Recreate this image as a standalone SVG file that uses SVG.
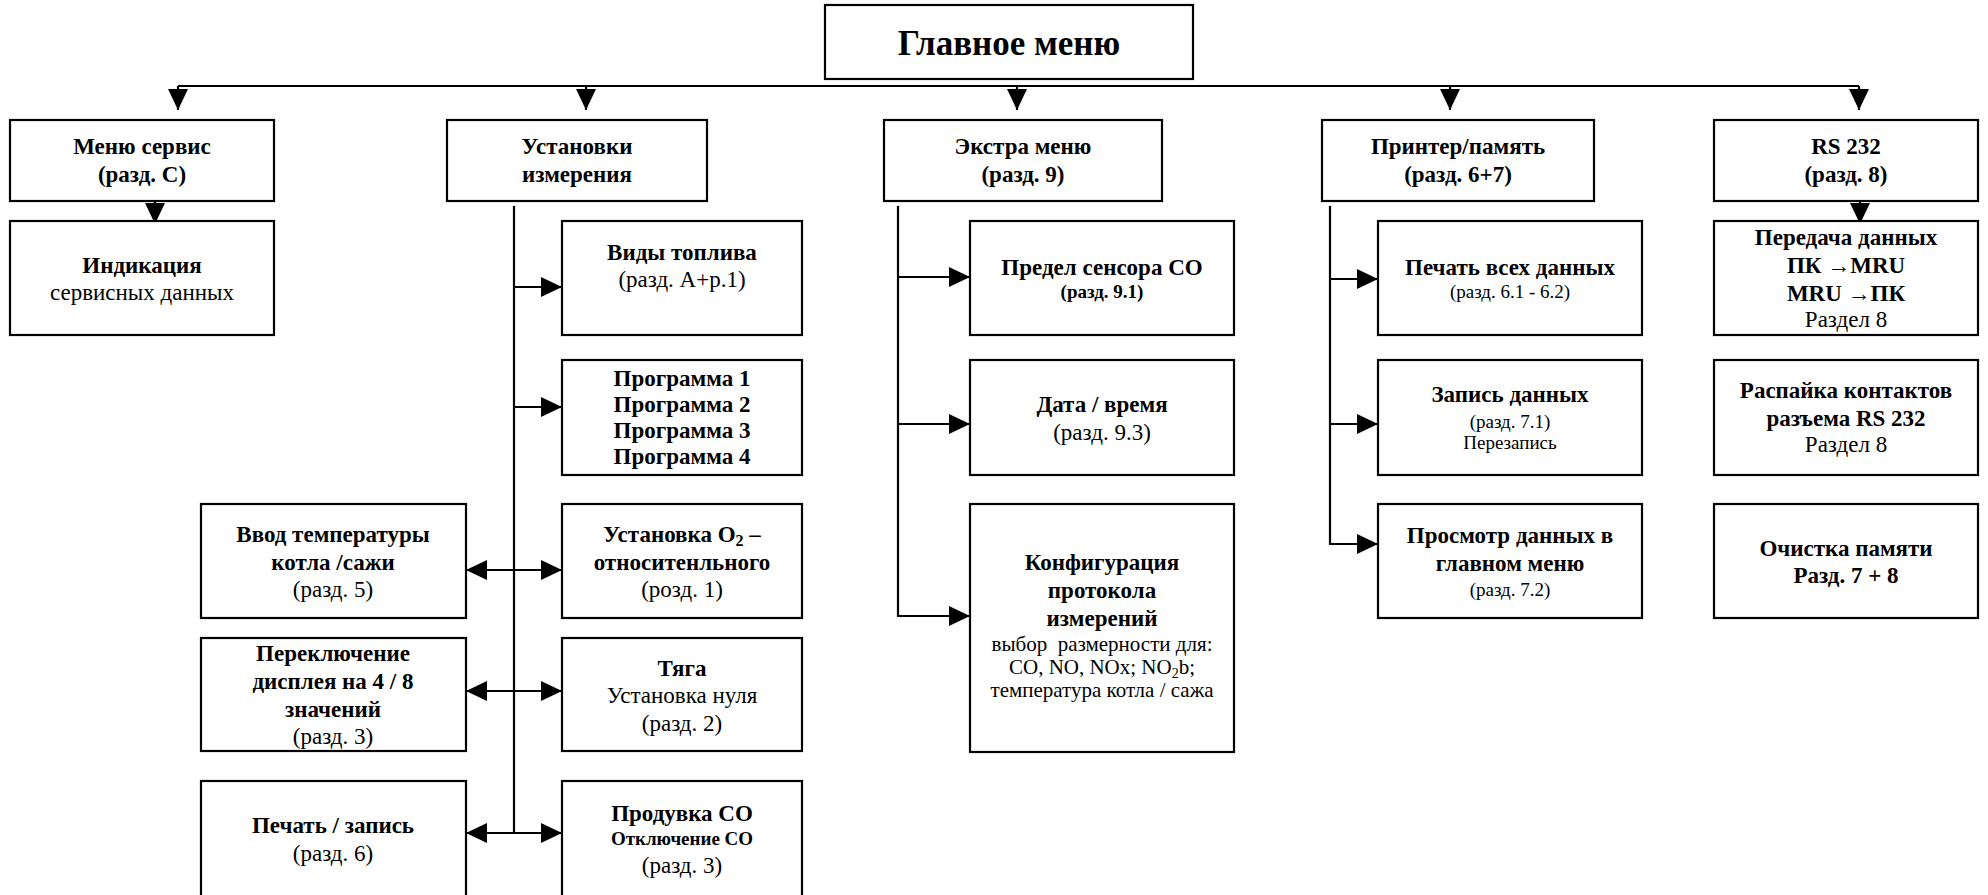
<svg xmlns="http://www.w3.org/2000/svg" width="1988" height="895" viewBox="0 0 1988 895">
<style>
.box{fill:#fff;stroke:#000;stroke-width:2.2}
.ln{fill:none;stroke:#000;stroke-width:2.2}
text{font-family:"Liberation Serif","Times New Roman",serif;fill:#000;text-anchor:middle;font-size:23px}
.b{font-weight:bold}
.s{font-size:19px}
.m{font-size:21px}
.t{font-size:35px;font-weight:bold}
</style>
<defs>
<marker id="ah" markerUnits="userSpaceOnUse" markerWidth="22" markerHeight="20" refX="21" refY="10" orient="auto-start-reverse" viewBox="0 0 22 20">
<path d="M0,0 L21,10 L0,20 z" fill="#000"/>
</marker>
</defs>
<rect width="1988" height="895" fill="#fff"/>

<g id="connectors">
<path class="ln" d="M178,86 H1859"/>
<path class="ln" d="M178,86 V110" marker-end="url(#ah)"/>
<path class="ln" d="M586,86 V110" marker-end="url(#ah)"/>
<path class="ln" d="M1017,86 V110" marker-end="url(#ah)"/>
<path class="ln" d="M1450,86 V110" marker-end="url(#ah)"/>
<path class="ln" d="M1859,86 V110" marker-end="url(#ah)"/>
<path class="ln" d="M155,201 V224" marker-end="url(#ah)"/>
<path class="ln" d="M1860,201 V224" marker-end="url(#ah)"/>
<path class="ln" d="M514,206 V833"/>
<path class="ln" d="M514,287 H562" marker-end="url(#ah)"/>
<path class="ln" d="M514,407 H562" marker-end="url(#ah)"/>
<path class="ln" d="M466,570 H562" marker-start="url(#ah)" marker-end="url(#ah)"/>
<path class="ln" d="M466,691 H562" marker-start="url(#ah)" marker-end="url(#ah)"/>
<path class="ln" d="M466,833 H562" marker-start="url(#ah)" marker-end="url(#ah)"/>
<path class="ln" d="M898,206 V616 H970" marker-end="url(#ah)"/>
<path class="ln" d="M898,277 H970" marker-end="url(#ah)"/>
<path class="ln" d="M898,424 H970" marker-end="url(#ah)"/>
<path class="ln" d="M1330,206 V544 H1378" marker-end="url(#ah)"/>
<path class="ln" d="M1330,279 H1378" marker-end="url(#ah)"/>
<path class="ln" d="M1330,424 H1378" marker-end="url(#ah)"/>
</g>

<g id="main">
<rect class="box" x="825" y="5" width="368" height="74"/>
<text class="t" x="1009" y="55">Главное меню</text>
</g>

<g id="menu-service">
<rect class="box" x="10" y="120" width="264" height="81"/>
<text class="b" x="142" y="154">Меню сервис</text>
<text class="b" x="142" y="182">(разд. С)</text>
</g>
<g id="indication">
<rect class="box" x="10" y="221" width="264" height="114"/>
<text class="b" x="142" y="273">Индикация</text>
<text x="142" y="300">сервисных данных</text>
</g>

<g id="settings">
<rect class="box" x="447" y="120" width="260" height="81"/>
<text class="b" x="577" y="154">Установки</text>
<text class="b" x="577" y="182">измерения</text>
</g>
<g id="fuel">
<rect class="box" x="562" y="221" width="240" height="114"/>
<text class="b" x="682" y="260">Виды топлива</text>
<text x="682" y="287">(разд. A+р.1)</text>
</g>
<g id="programs">
<rect class="box" x="562" y="360" width="240" height="115"/>
<text class="b" x="682" y="386">Программа 1</text>
<text class="b" x="682" y="412">Программа 2</text>
<text class="b" x="682" y="438">Программа 3</text>
<text class="b" x="682" y="464">Программа 4</text>
</g>
<g id="o2">
<rect class="box" x="562" y="504" width="240" height="114"/>
<text class="b" x="682" y="542">Установка O<tspan font-size="16" dy="4">2</tspan><tspan dy="-4"> –</tspan></text>
<text class="b" x="682" y="570">относитенльного</text>
<text x="682" y="597">(розд. 1)</text>
</g>
<g id="draft">
<rect class="box" x="562" y="638" width="240" height="113"/>
<text class="b" x="682" y="676">Тяга</text>
<text x="682" y="703">Установка нуля</text>
<text x="682" y="731">(разд. 2)</text>
</g>
<g id="purge">
<rect class="box" x="562" y="781" width="240" height="130"/>
<text class="b" x="682" y="821">Продувка CO</text>
<text class="b s" x="682" y="845">Отключение CO</text>
<text x="682" y="873">(разд. 3)</text>
</g>
<g id="temp-input">
<rect class="box" x="201" y="504" width="265" height="114"/>
<text class="b" x="333" y="542">Ввод температуры</text>
<text class="b" x="333" y="570">котла /сажи</text>
<text x="333" y="597">(разд. 5)</text>
</g>
<g id="display-switch">
<rect class="box" x="201" y="638" width="265" height="113"/>
<text class="b" x="333" y="661">Переключение</text>
<text class="b" x="333" y="689">дисплея на 4 / 8</text>
<text class="b" x="333" y="717">значений</text>
<text x="333" y="744">(разд. 3)</text>
</g>
<g id="print-save">
<rect class="box" x="201" y="781" width="265" height="130"/>
<text class="b" x="333" y="833">Печать / запись</text>
<text x="333" y="861">(разд. 6)</text>
</g>

<g id="extra">
<rect class="box" x="884" y="120" width="278" height="81"/>
<text class="b" x="1023" y="154">Экстра меню</text>
<text class="b" x="1023" y="182">(разд. 9)</text>
</g>
<g id="co-limit">
<rect class="box" x="970" y="221" width="264" height="114"/>
<text class="b" x="1102" y="275">Предел сенсора CO</text>
<text class="b s" x="1102" y="298">(разд. 9.1)</text>
</g>
<g id="datetime">
<rect class="box" x="970" y="360" width="264" height="115"/>
<text class="b" x="1102" y="412">Дата / время</text>
<text x="1102" y="440">(разд. 9.3)</text>
</g>
<g id="config">
<rect class="box" x="970" y="504" width="264" height="248"/>
<text class="b" x="1102" y="570">Конфигурация</text>
<text class="b" x="1102" y="598">протокола</text>
<text class="b" x="1102" y="626">измерений</text>
<text class="m" x="1102" y="651" xml:space="preserve">выбор  размерности для:</text>
<text class="m" x="1102" y="674">CO, NO, NOx; NO<tspan font-size="14" dy="4">2</tspan><tspan dy="-4">b;</tspan></text>
<text class="m" x="1102" y="697">температура котла / сажа</text>
</g>

<g id="printer">
<rect class="box" x="1322" y="120" width="272" height="81"/>
<text class="b" x="1458" y="154">Принтер/память</text>
<text class="b" x="1458" y="182">(разд. 6+7)</text>
</g>
<g id="print-all">
<rect class="box" x="1378" y="221" width="264" height="114"/>
<text class="b" x="1510" y="275">Печать всех данных</text>
<text class="s" x="1510" y="298">(разд. 6.1 - 6.2)</text>
</g>
<g id="record">
<rect class="box" x="1378" y="360" width="264" height="115"/>
<text class="b" x="1510" y="402">Запись данных</text>
<text class="s" x="1510" y="428">(разд. 7.1)</text>
<text class="s" x="1510" y="449">Перезапись</text>
</g>
<g id="view">
<rect class="box" x="1378" y="504" width="264" height="114"/>
<text class="b" x="1510" y="543">Просмотр данных в</text>
<text class="b" x="1510" y="571">главном меню</text>
<text class="s" x="1510" y="596">(разд. 7.2)</text>
</g>

<g id="rs232">
<rect class="box" x="1714" y="120" width="264" height="81"/>
<text class="b" x="1846" y="154">RS 232</text>
<text class="b" x="1846" y="182">(разд. 8)</text>
</g>
<g id="transfer">
<rect class="box" x="1714" y="221" width="264" height="114"/>
<text class="b" x="1846" y="245">Передача данных</text>
<text class="b" x="1846" y="273">ПК →MRU</text>
<text class="b" x="1846" y="301">MRU →ПК</text>
<text x="1846" y="327">Раздел 8</text>
</g>
<g id="pinout">
<rect class="box" x="1714" y="360" width="264" height="115"/>
<text class="b" x="1846" y="398">Распайка контактов</text>
<text class="b" x="1846" y="426">разъема RS 232</text>
<text x="1846" y="452">Раздел 8</text>
</g>
<g id="clear">
<rect class="box" x="1714" y="504" width="264" height="114"/>
<text class="b" x="1846" y="556">Очистка памяти</text>
<text class="b" x="1846" y="583">Разд. 7 + 8</text>
</g>
</svg>
